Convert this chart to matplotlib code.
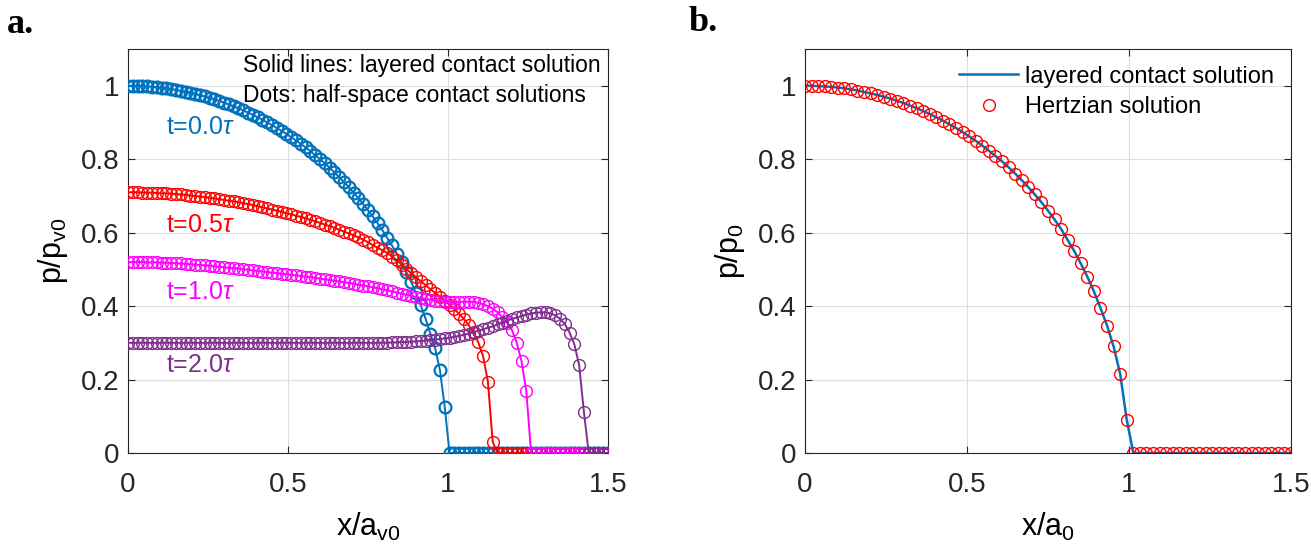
import numpy as np
import matplotlib.pyplot as plt

plt.rcParams['font.family'] = ['Liberation Sans', 'DejaVu Sans']
plt.rcParams['mathtext.fontset'] = 'custom'
plt.rcParams['mathtext.rm'] = 'Liberation Sans'
plt.rcParams['mathtext.it'] = 'Liberation Sans:italic'

# # Panel a: pressure profiles at different times (x/a_v0 grid of the half-space solver)
x_a = np.linspace(0, 1.5, 101)

p_t00 = [1.000, 1.000, 1.000, 0.999, 0.998, 0.997, 0.996, 0.994, 0.993, 0.991,
         0.989, 0.986, 0.984, 0.981, 0.978, 0.974, 0.971, 0.967, 0.963, 0.959,
         0.954, 0.949, 0.944, 0.939, 0.933, 0.927, 0.921, 0.914, 0.908, 0.900,
         0.893, 0.885, 0.877, 0.869, 0.860, 0.851, 0.842, 0.832, 0.822, 0.811,
         0.800, 0.789, 0.777, 0.764, 0.751, 0.738, 0.724, 0.709, 0.694, 0.678,
         0.661, 0.644, 0.626, 0.607, 0.586, 0.565, 0.543, 0.519, 0.493, 0.466,
         0.436, 0.403, 0.366, 0.325, 0.285, 0.226, 0.125] + [0.0] * 34

p_t05 = [0.710, 0.710, 0.710, 0.709, 0.709, 0.709, 0.708, 0.707, 0.707, 0.706,
         0.705, 0.704, 0.703, 0.701, 0.700, 0.698, 0.697, 0.695, 0.693, 0.691,
         0.689, 0.687, 0.685, 0.683, 0.680, 0.678, 0.675, 0.672, 0.669, 0.666,
         0.663, 0.660, 0.657, 0.653, 0.650, 0.646, 0.643, 0.639, 0.635, 0.631,
         0.627, 0.622, 0.618, 0.613, 0.608, 0.603, 0.598, 0.593, 0.587, 0.581,
         0.574, 0.566, 0.559, 0.552, 0.545, 0.535, 0.525, 0.513, 0.501, 0.490,
         0.479, 0.468, 0.457, 0.446, 0.436, 0.426, 0.415, 0.404, 0.392, 0.379,
         0.365, 0.348, 0.328, 0.301, 0.263, 0.194, 0.030] + [0.0] * 24

p_t10 = [0.520, 0.520, 0.520, 0.520, 0.519, 0.519, 0.519, 0.518, 0.518, 0.517,
         0.517, 0.516, 0.515, 0.514, 0.513, 0.512, 0.511, 0.510, 0.508, 0.507,
         0.506, 0.504, 0.503, 0.502, 0.500, 0.499, 0.497, 0.496, 0.494, 0.493,
         0.491, 0.490, 0.488, 0.487, 0.485, 0.484, 0.482, 0.480, 0.479, 0.477,
         0.475, 0.473, 0.471, 0.469, 0.467, 0.465, 0.463, 0.461, 0.458, 0.456,
         0.454, 0.451, 0.449, 0.446, 0.443, 0.440, 0.437, 0.434, 0.431, 0.428,
         0.425, 0.422, 0.419, 0.417, 0.415, 0.413, 0.412, 0.411, 0.411, 0.411,
         0.412, 0.412, 0.411, 0.409, 0.405, 0.400, 0.393, 0.383, 0.370, 0.355,
         0.335, 0.300, 0.250, 0.168] + [0.0] * 17

p_t20 = [0.300] * 55 + [
         0.301, 0.301, 0.302, 0.302, 0.303, 0.304, 0.305, 0.306, 0.307, 0.309,
         0.310, 0.312, 0.314, 0.316, 0.319, 0.322, 0.325, 0.329, 0.333, 0.337,
         0.341, 0.345, 0.350, 0.355, 0.360, 0.365, 0.369, 0.373, 0.377, 0.380,
         0.382, 0.383, 0.383, 0.380, 0.375, 0.366, 0.352, 0.328, 0.296, 0.240,
         0.112] + [0.0] * 5

time_labels = ['t=0.0$\\tau$', 't=0.5$\\tau$', 't=1.0$\\tau$', 't=2.0$\\tau$']
curve_colors = ['#0072BD', '#FF0000', '#FF00FF', '#7E2F8E']
label_y = [0.888, 0.621, 0.439, 0.240]

# # Panel b: layered solution vs Hertzian (x/a_0)
x_b = np.linspace(0, 1.5, 75)

p_hertz = [1.000, 1.000, 0.999, 0.998, 0.997, 0.995, 0.993, 0.990, 0.987, 0.983,
           0.979, 0.975, 0.970, 0.965, 0.959, 0.953, 0.946, 0.939, 0.931, 0.923,
           0.914, 0.905, 0.895, 0.885, 0.874, 0.862, 0.850, 0.837, 0.823, 0.809,
           0.794, 0.778, 0.761, 0.743, 0.724, 0.704, 0.683, 0.660, 0.636, 0.610,
           0.580, 0.550, 0.516, 0.480, 0.440, 0.395, 0.347, 0.290, 0.215, 0.090] + [0.0] * 25


fig = plt.figure(figsize=(13.11, 5.44), dpi=100)
ax_a = fig.add_axes([0.0976, 0.1673, 0.3661, 0.7426])
ax_b = fig.add_axes([0.6140, 0.1673, 0.3707, 0.7426])

curves = [p_t00, p_t05, p_t10, p_t20]
mews = [1.6, 1.0, 1.0, 1.0]
for p, col, mew in zip(curves, curve_colors, mews):
    ax_a.plot(x_a, p, '-', color=col, lw=1.4, zorder=3)
    ax_a.plot(x_a, p, 'o', mfc='none', mec=col, ms=8.5, mew=mew, zorder=3)

for lab, col, yy in zip(time_labels, curve_colors, label_y):
    ax_a.text(0.118, yy, lab, color=col, fontsize=18, va='center', ha='left')

ax_a.text(0.359, 1.054, 'Solid lines: layered contact solution', fontsize=16.5, va='center')
ax_a.text(0.359, 0.973, 'Dots: half-space contact solutions', fontsize=16.5, va='center')

ax_a.set_xlabel('x/a$_{\\rm v0}$', fontsize=22, labelpad=9)
ax_a.set_ylabel('p/p$_{\\rm v0}$', fontsize=22, labelpad=8)

ax_b.plot(x_b, p_hertz, '-', color='#0072BD', lw=1.8, label='layered contact solution')
ax_b.plot(x_b, p_hertz, 'o', mfc='none', mec='#FF0000', ms=8.5, mew=1.0, label='Hertzian solution')
ax_b.legend(loc='upper right', frameon=False, fontsize=17, handlelength=2.5,
            borderaxespad=0.3, labelspacing=0.35, handletextpad=0.3)
ax_b.set_xlabel('x/a$_{\\rm 0}$', fontsize=22, labelpad=9)
ax_b.set_ylabel('p/p$_{\\rm 0}$', fontsize=22, labelpad=8)

for ax in [ax_a, ax_b]:
    ax.set_xlim(0, 1.5)
    ax.set_ylim(0, 1.1)
    ax.set_xticks([0, 0.5, 1, 1.5])
    ax.set_xticklabels(['0', '0.5', '1', '1.5'])
    ax.set_yticks([0, 0.2, 0.4, 0.6, 0.8, 1])
    ax.set_yticklabels(['0', '0.2', '0.4', '0.6', '0.8', '1'])
    ax.grid(True, color='#dedede', lw=0.8)
    ax.set_axisbelow(True)
    ax.tick_params(direction='in', length=5, width=0.8, colors='#262626',
                   labelsize=20, top=True, right=True)
    ax.tick_params(axis='x', pad=14)
    ax.tick_params(axis='y', pad=6)
    for s in ax.spines.values():
        s.set_color('#262626')
        s.set_linewidth(0.8)

fig.text(0.005, 0.955, 'a.', family='Liberation Serif', fontweight='bold', fontsize=26, va='center')
fig.text(0.525, 0.958, 'b.', family='Liberation Serif', fontweight='bold', fontsize=26, va='center')

plt.savefig('out.png', dpi=100)
